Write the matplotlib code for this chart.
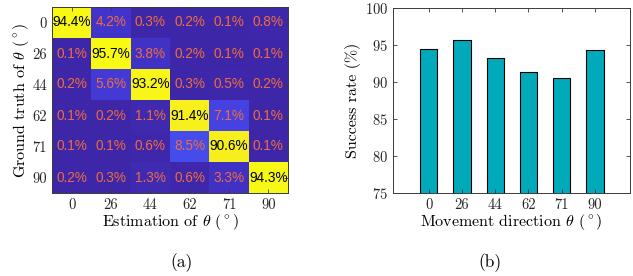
import numpy as np
import matplotlib
matplotlib.use('Agg')
import matplotlib.pyplot as plt
from matplotlib.colors import LinearSegmentedColormap

# Data
angles = ['0', '26', '44', '62', '71', '90']
confusion = [
    [94.4, 4.2, 0.3, 0.2, 0.1, 0.8],
    [0.1, 95.7, 3.8, 0.2, 0.1, 0.1],
    [0.2, 5.6, 93.2, 0.3, 0.5, 0.2],
    [0.1, 0.2, 1.1, 91.4, 7.1, 0.1],
    [0.1, 0.1, 0.6, 8.5, 90.6, 0.1],
    [0.2, 0.3, 1.3, 0.6, 3.3, 94.3],
]
success_rate = [94.4, 95.7, 93.2, 91.4, 90.6, 94.3]

plt.rcParams['font.family'] = 'cmr10'
plt.rcParams['mathtext.fontset'] = 'cm'
plt.rcParams['axes.formatter.use_mathtext'] = True
plt.rcParams['axes.unicode_minus'] = False

# approximate MATLAB parula
parula = LinearSegmentedColormap.from_list('parula', [
    (0.00, (0.2422, 0.1504, 0.6603)),
    (0.05, (0.2650, 0.2200, 0.8300)),
    (0.10, (0.2810, 0.3228, 0.9579)),
    (0.20, (0.1707, 0.4952, 0.9818)),
    (0.30, (0.1250, 0.6200, 0.8900)),
    (0.40, (0.0590, 0.7100, 0.8000)),
    (0.50, (0.2000, 0.7700, 0.6200)),
    (0.60, (0.4900, 0.7900, 0.3500)),
    (0.70, (0.8000, 0.7500, 0.2300)),
    (0.80, (0.9900, 0.7400, 0.2400)),
    (0.90, (0.9600, 0.8900, 0.1500)),
    (1.00, (0.9769, 0.9839, 0.0805)),
])

axis_col = '#3a3a3a'
fig = plt.figure(figsize=(6.33, 2.76), dpi=100)

# (a) confusion matrix
ax1 = fig.add_axes([52/633, 1-193/276, 236/633, 186/276])
cm = np.array(confusion)
ax1.imshow(cm, cmap=parula, aspect='auto', interpolation='nearest')
for i in range(cm.shape[0]):
    for j in range(cm.shape[1]):
        col = 'black' if i == j else '#f06c3e'
        ax1.text(j, i, f'{cm[i, j]:.1f}%', ha='center', va='center',
                 color=col, fontsize=9.8, family='Liberation Sans')
ax1.set_xticks(range(len(angles)))
ax1.set_xticklabels(angles)
ax1.set_yticks(range(len(angles)))
ax1.set_yticklabels(angles)
ax1.set_xlabel(r'Estimation of $\theta$ $(^\circ)$', fontsize=11.5, labelpad=0)
ax1.set_ylabel(r'Ground truth of $\theta$ $(^\circ)$', fontsize=11.5, labelpad=1)

# (b) success rate bars
ax2 = fig.add_axes([393/633, 1-193/276, 237/633, 185/276])
x = np.arange(len(angles))
ax2.bar(x, success_rate, width=0.52, color='#00aabb', edgecolor='black', linewidth=0.8)
ax2.set_ylim(75, 100)
ax2.set_xlim(-1.07, 6.05)
ax2.set_yticks([75, 80, 85, 90, 95, 100])
ax2.set_xticks(x)
ax2.set_xticklabels(angles)
ax2.set_xlabel(r'Movement direction $\theta$ $(^\circ)$', fontsize=11.5, labelpad=0)
ax2.set_ylabel('Success rate (%)', fontsize=11.5, labelpad=3)

for ax in (ax1, ax2):
    ax.tick_params(direction='in', top=True, right=True, length=3, width=0.6,
                   colors=axis_col, labelcolor='#262626', labelsize=10.5)
    for s in ax.spines.values():
        s.set_color(axis_col)
        s.set_linewidth(0.7)

fig.text(182/633, 1-263/276, '(a)', ha='center', va='center', fontsize=12.5)
fig.text(490/633, 1-263/276, '(b)', ha='center', va='center', fontsize=12.5)

fig.savefig('out.png', dpi=100)
